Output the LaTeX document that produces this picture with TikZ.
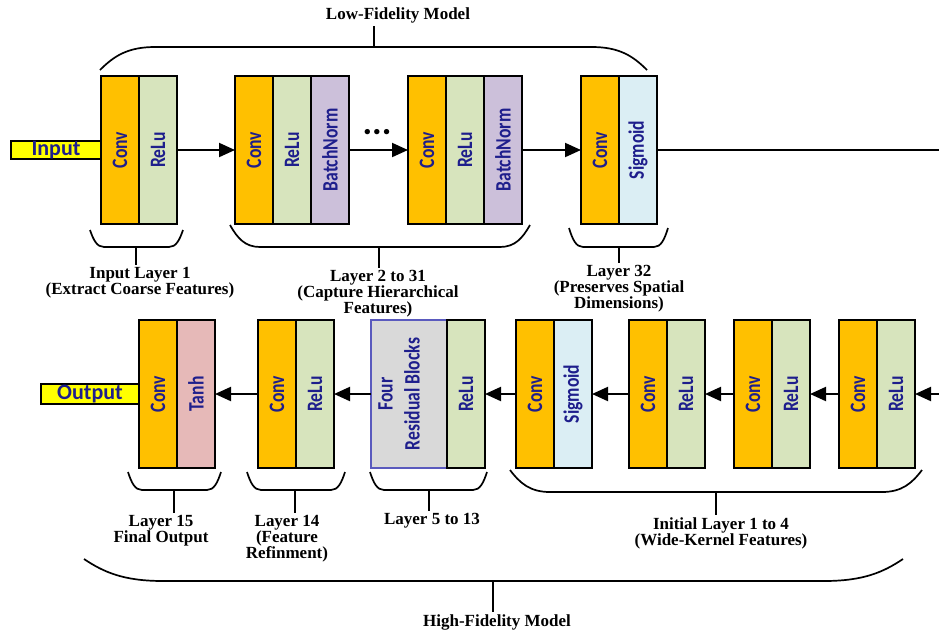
\documentclass[tikz,border=0pt]{standalone}
\usepackage{fontspec}
\setmainfont{Liberation Serif}
\newfontfamily\blkfont{Carlito}
\usetikzlibrary{arrows.meta,positioning,calc}
\definecolor{cConv}{RGB}{255,192,0}
\definecolor{cRelu}{RGB}{215,228,189}
\definecolor{cBN}{RGB}{204,192,218}
\definecolor{cSig}{RGB}{219,238,244}
\definecolor{cTanh}{RGB}{230,185,184}
\definecolor{cRes}{RGB}{217,217,217}
\definecolor{cResEdge}{RGB}{90,90,190}
\definecolor{cIO}{RGB}{255,255,0}
\definecolor{ink}{RGB}{30,30,140}
\tikzset{
  blk/.style={draw=black,line width=1pt,minimum width=19pt,minimum height=74pt,
    inner sep=0pt,outer sep=0pt},
  btxt/.style={rotate=90,yscale=1.25,font=\blkfont\bfseries\fontsize{8.8}{10.8}\selectfont,
    text=ink,align=center,inner sep=0pt},
  io/.style={draw=black,line width=1pt,fill=cIO,inner sep=0pt,outer sep=0pt,
    font=\blkfont\bfseries\fontsize{11}{11}\selectfont,text=ink,
    text height=7.2pt,text depth=1.6pt},
  ar/.style={-{Triangle[length=8pt,width=7pt]},line width=1pt},
  brc/.style={line width=0.85pt},
  tag/.style={font=\bfseries\fontsize{8.5}{8}\selectfont,align=center,inner sep=1pt},
}
% #1 left x, #2 right x, #3 end y, #4 bar y, #5 curve run
\newcommand{\grpbrace}[5]{%
  \draw[brc] (#1,#3) .. controls ({#1+0.25*#5},{#3+0.6*(#4-#3)}) and ({#1+0.5*#5},#4) .. ({#1+#5},#4)
    -- ({#2-#5},#4) .. controls ({#2-0.5*#5},#4) and ({#2-0.25*#5},{#3+0.6*(#4-#3)}) .. (#2,#3);}

\begin{document}
\begin{tikzpicture}[x=0.5pt,y=-0.5pt]
  \useasboundingbox (0,0) rectangle (939,634);
  % low-fidelity model
  \node[blk,fill=cConv,label={[btxt]center:Conv}] (c1) at (120,150) {};
  \node[blk,fill=cRelu,label={[btxt]center:ReLu},right=0pt of c1] (r1) {};
  \node[io,minimum width=45pt,minimum height=9pt,left=0pt of c1] (inp) {Input};
  \node[blk,fill=cConv,label={[btxt]center:Conv}] (c2) at (254,150) {};
  \node[blk,fill=cRelu,label={[btxt]center:ReLu},right=0pt of c2] (r2) {};
  \node[blk,fill=cBN,label={[btxt]center:BatchNorm},right=0pt of r2] (b2) {};
  \node[blk,fill=cConv,label={[btxt]center:Conv}] (c3) at (427,150) {};
  \node[blk,fill=cRelu,label={[btxt]center:ReLu},right=0pt of c3] (r3) {};
  \node[blk,fill=cBN,label={[btxt]center:BatchNorm},right=0pt of r3] (b3) {};
  \node[blk,fill=cConv,label={[btxt]center:Conv}] (c4) at (600,150) {};
  \node[blk,fill=cSig,label={[btxt]center:Sigmoid},right=0pt of c4] (s4) {};
  \node[font=\blkfont\bfseries\fontsize{18}{18}\selectfont,anchor=base,inner sep=0pt] (dots) at (377,134) {...};
  \coordinate (eT) at (939,150);
  \draw[ar] (r1) -- (c2);
  \draw[ar] (b2) -- (c3);
  \draw[ar] (b3) -- (c4);
  \draw[line width=0.9pt] (s4) -- (eT);
  % high-fidelity model
  \node[blk,fill=cConv,label={[btxt]center:Conv}] (hc1) at (858,394) {};
  \node[blk,fill=cRelu,label={[btxt]center:ReLu},right=0pt of hc1] (hr1) {};
  \node[blk,fill=cConv,label={[btxt]center:Conv}] (hc2) at (753,394) {};
  \node[blk,fill=cRelu,label={[btxt]center:ReLu},right=0pt of hc2] (hr2) {};
  \node[blk,fill=cConv,label={[btxt]center:Conv}] (hc3) at (648,394) {};
  \node[blk,fill=cRelu,label={[btxt]center:ReLu},right=0pt of hc3] (hr3) {};
  \node[blk,fill=cConv,label={[btxt]center:Conv}] (hc4) at (535,394) {};
  \node[blk,fill=cSig,label={[btxt]center:Sigmoid},right=0pt of hc4] (hs4) {};
  \node[blk,draw=cResEdge,line width=0.6pt,fill=cRes,minimum width=38pt,
    label={[xshift=-5pt,btxt]center:{Four\\Residual Blocks}}] (res) at (409,394) {};
  \node[blk,fill=cRelu,label={[btxt]center:ReLu},right=0pt of res] (rr) {};
  \node[blk,fill=cConv,label={[btxt]center:Conv}] (c14) at (277,394) {};
  \node[blk,fill=cRelu,label={[btxt]center:ReLu},right=0pt of c14] (r14) {};
  \node[blk,fill=cConv,label={[btxt]center:Conv}] (c15) at (158,394) {};
  \node[blk,fill=cTanh,label={[btxt]center:Tanh},right=0pt of c15] (t15) {};
  \node[io,minimum width=49pt,minimum height=10pt,left=0pt of c15] (outp) {Output};
  \coordinate (eB) at (939,394);
  \draw[ar] (eB) -- (hr1);
  \draw[ar] (hc1) -- (hr2);
  \draw[ar] (hc2) -- (hr3);
  \draw[ar] (hc3) -- (hs4);
  \draw[ar] (hc4) -- (rr);
  \draw[ar] (res) -- (r14);
  \draw[ar] (c14) -- (t15);
  % braces
  \grpbrace{100}{647}{70}{47}{55}
  \grpbrace{90}{183}{230}{247}{14}
  \grpbrace{230}{530}{225}{247}{30}
  \grpbrace{569}{668}{228}{247}{14}
  \grpbrace{128}{221}{472}{490}{14}
  \grpbrace{247}{345}{472}{490}{14}
  \grpbrace{370}{487}{472}{490}{14}
  \grpbrace{510}{922}{470}{492}{40}
  \grpbrace{84}{903}{559}{581}{79}
  \coordinate (tLo) at (374,47);
  \coordinate (tk1) at (136,247);
  \coordinate (tk2) at (379,247);
  \coordinate (tk32) at (619,247);
  \coordinate (tk15) at (174,490);
  \coordinate (tk14) at (295,490);
  \coordinate (tk513) at (429,490);
  \coordinate (tkIni) at (716,492);
  \coordinate (tHi) at (493,581);
  \node[tag,anchor=south] (lofi) at (398,26) {Low-Fidelity Model};
  \node[tag,anchor=north] (lab1) at (140,265) {Input Layer 1\\(Extract Coarse Features)};
  \node[tag,anchor=north] (lab2) at (378,268) {Layer 2 to 31\\(Capture Hierarchical\\Features)};
  \node[tag,anchor=north] (lab32) at (619,263) {Layer 32\\(Preserves Spatial\\Dimensions)};
  \node[tag,anchor=north] (lab15) at (161,513) {Layer 15\\Final Output};
  \node[tag,anchor=north] (lab14) at (287,513) {Layer 14\\(Feature\\Refinment)};
  \node[tag,anchor=north] (lab513) at (432,511) {Layer 5 to 13};
  \node[tag,anchor=north] (labIni) at (721,515) {Initial Layer 1 to 4\\(Wide-Kernel Features)};
  \node[tag,anchor=north] (hifi) at (497,612) {High-Fidelity Model};
  \draw[brc] (tLo) -- (tLo |- lofi.south);
  \draw[brc] (tk1) -- (tk1 |- lab1.north);
  \draw[brc] (tk2) -- (tk2 |- lab2.north);
  \draw[brc] (tk32) -- (tk32 |- lab32.north);
  \draw[brc] (tk15) -- (tk15 |- lab15.north);
  \draw[brc] (tk14) -- (tk14 |- lab14.north);
  \draw[brc] (tk513) -- (tk513 |- lab513.north);
  \draw[brc] (tkIni) -- (tkIni |- labIni.north);
  \draw[brc] (tHi) -- (tHi |- hifi.north);
\end{tikzpicture}
\end{document}
